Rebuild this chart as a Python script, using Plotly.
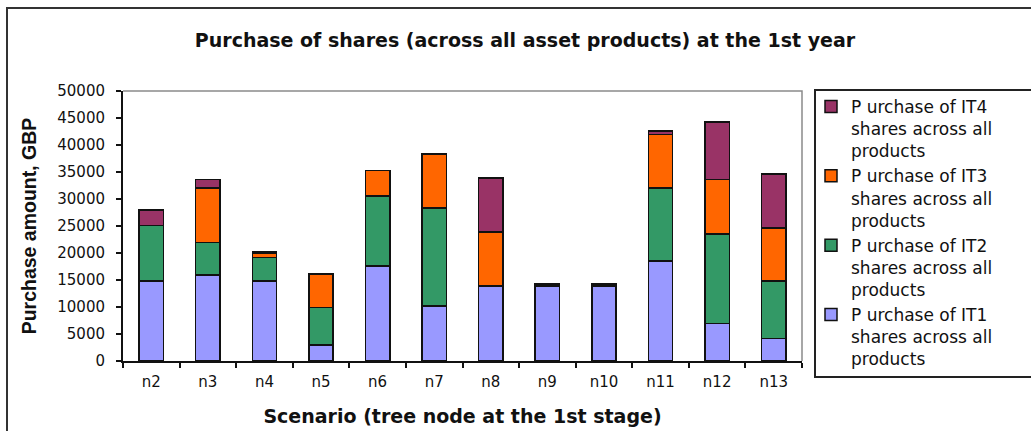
import plotly.graph_objects as go

# Scenario nodes at the first stage of the tree
scenarios = ["n2", "n3", "n4", "n5", "n6", "n7", "n8", "n9", "n10", "n11", "n12", "n13"]

# Purchase amounts (GBP) per share type, summed across all asset products
it1 = [14800, 15900, 14800, 3000, 17600, 10200, 13900, 13900, 13900, 18500, 6900, 4200]
it2 = [10300, 6000, 4400, 6900, 13000, 18100, 0, 400, 400, 13500, 16600, 10600]
it3 = [0, 10100, 800, 6200, 4700, 10000, 10000, 0, 0, 9900, 10100, 9800]
it4 = [2900, 1600, 300, 0, 0, 0, 10000, 0, 0, 700, 10700, 10000]

series_names = [
    "P urchase of IT1<br>shares across all<br>products",
    "P urchase of IT2<br>shares across all<br>products",
    "P urchase of IT3<br>shares across all<br>products",
    "P urchase of IT4<br>shares across all<br>products",
]
series_values = [it1, it2, it3, it4]
series_colors = ["#9999FF", "#339966", "#FF6600", "#993366"]

y_ticks = list(range(0, 50001, 5000))

W, H = 1031, 431
L, R, T, B = 123, 802, 91, 361  # plot area edges in pixels

WIDE = "DejaVu Sans, Verdana, sans-serif"
ARIAL = "Liberation Sans, Arial, sans-serif"


def px_x(px):
    return (px - L) / (R - L)


def px_y(py):
    return (B - py) / (B - T)


fig = go.Figure()
for name, vals, col in zip(series_names, series_values, series_colors):
    fig.add_trace(go.Bar(
        x=scenarios, y=vals, name=name,
        marker=dict(color=col, line=dict(color="#111111", width=1.5)),
    ))

fig.update_layout(
    width=W, height=H,
    barmode="stack", bargap=0.57,
    paper_bgcolor="white", plot_bgcolor="white",
    margin=dict(l=L, r=W - R, t=T, b=H - B, autoexpand=False),
    font=dict(family=WIDE, color="#111111"),
    title=dict(
        text="<b>Purchase of shares (across all asset products) at the 1st year</b>",
        x=525 / W, xanchor="center", y=1 - 40 / H, yanchor="middle",
        font=dict(size=19, color="#111111"),
    ),
    showlegend=True,
    legend=dict(
        x=px_x(811), xanchor="left", y=px_y(89), yanchor="top",
        traceorder="reversed", valign="top", maxheight=400,
        font=dict(size=17, color="#111111"),
        borderwidth=0, bgcolor="rgba(0,0,0,0)",
    ),
    xaxis=dict(
        type="category", showline=True, linecolor="#111111", linewidth=2,
        ticks="outside", ticklen=5, tickcolor="#111111", tickwidth=1.5,
        tickson="boundaries", showgrid=False,
        tickfont=dict(size=15), ticklabelstandoff=6,
        title=dict(text="<b>Scenario (tree node at the 1st stage)</b>",
                   font=dict(size=19), standoff=20),
    ),
    yaxis=dict(
        range=[0, 50000], tickvals=y_ticks, tickformat="d",
        showline=True, linecolor="#111111",
        linewidth=2, ticks="outside", ticklen=5, tickcolor="#111111",
        tickwidth=1.5, showgrid=False, zeroline=False,
        tickfont=dict(size=15), ticklabelstandoff=8,
        title=dict(text="<b>Purchase amount, GBP</b>",
                   font=dict(size=19.5, family=ARIAL), standoff=15),
    ),
    shapes=[
        # gray top/right border of the plot area
        dict(type="path", xref="paper", yref="paper",
             path="M 0 1 L 1 1 L 1 0", line=dict(color="#8a8a8a", width=1.5)),
        # outer chart frame
        dict(type="rect", xref="paper", yref="paper",
             x0=px_x(7), x1=px_x(1045), y0=px_y(445), y1=px_y(8),
             line=dict(color="#333333", width=2), layer="below"),
        # legend frame, running past the right edge of the chart
        dict(type="rect", xref="paper", yref="paper",
             x0=px_x(815), x1=px_x(1045), y0=px_y(377), y1=px_y(90),
             line=dict(color="#222222", width=2), fillcolor="white",
             layer="below"),
    ],
)

fig.write_html("out.html")
